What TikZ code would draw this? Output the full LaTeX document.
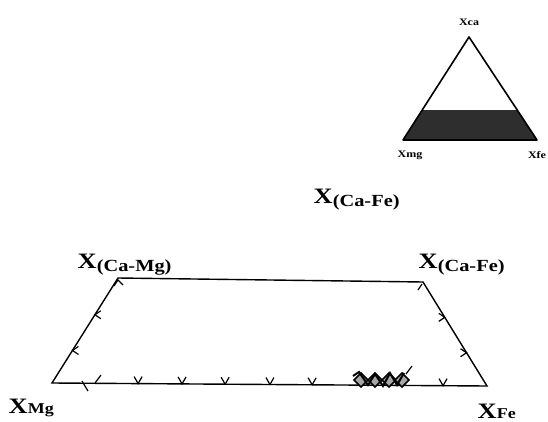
\documentclass[tikz,border=0pt]{standalone}
\usepackage{fontspec}
\setmainfont{Liberation Serif}
\newfontfamily\lblfont[FakeStretch=1.2]{Liberation Serif}
\usetikzlibrary{calc}

\newcommand{\bigX}[1]{{\fontsize{22}{22}\selectfont X}\raisebox{-3pt}{\fontsize{17}{17}\selectfont #1}}
\newcommand{\cornerX}[1]{{\fontsize{22}{22}\selectfont X}{\fontsize{15}{15}\selectfont #1}}

\begin{document}
\begin{tikzpicture}[x=1pt, y=-1pt, line width=1.4pt,
    lbl/.style={font=\lblfont\bfseries, inner sep=0pt, anchor=base west},
    small/.style={font=\lblfont\bfseries\fontsize{10}{10}\selectfont, inner sep=0pt},
    tick/.style={line width=1.2pt}]
  \useasboundingbox (0,0) rectangle (548,422);

  % small triangle
  \coordinate (ca) at (469,37);
  \coordinate (tmg) at (403,140);
  \coordinate (tfe) at (537,140);
  \fill[black!82] ($(tmg)!0.29!(ca)$) -- ($(tfe)!0.29!(ca)$) -- (tfe) -- (tmg) -- cycle;
  \draw[line width=1.6pt, line join=round] (ca) -- (tfe) -- (tmg) -- cycle;
  \node[small] (xca) at (469,22) {Xca};
  \node[small] (xmg) at (410,155) {Xmg};
  \node[small] (xfe) at (537,155) {Xfe};

  \node[lbl] (lone) at (313,203) {\bigX{(Ca-Fe)}};

  % trapezoid
  \coordinate (mg) at (52,383);
  \coordinate (camg) at (118,278);
  \coordinate (cafe) at (423,282);
  \coordinate (fe) at (487,386);
  \draw (mg) -- (camg) -- (cafe) -- (fe) -- cycle;

  \node[lbl] (camglbl) at (77,268) {\bigX{(Ca-Mg)}};
  \node[lbl] (cafelbl) at (418,268) {\bigX{(Ca-Fe)}};
  \node[lbl] (mglbl) at (8,413) {\cornerX{Mg}};
  \node[lbl] (felbl) at (477,418) {\cornerX{Fe}};

  % ticks
  \foreach \t in {.198,.299,.398,.501,.598,.899}
    \draw[tick] ($(mg)!\t!(fe)$) ++(-4,-7) -- ++(4,7) -- ++(4,-7);
  \foreach \t in {.31,.65}
    \draw[tick] ($(mg)!\t!(camg)$) ++(6,-4) -- ++(-6,4) -- ++(6,4);
  \foreach \t in {.32,.66}
    \draw[tick] ($(fe)!\t!(cafe)$) ++(-6,-4) -- ++(6,4) -- ++(-6,4);
  \draw[tick] ($(camg)+(-4,8)$) -- ($(camg)+(0,2)$) -- ($(camg)+(5,7)$);
  \draw[tick] ($(cafe)+(-5,8)$) -- ($(cafe)+(-1,2)$);
  \draw[tick] (82,381) -- (88,391);
  \draw[tick] (95,383) -- (101,375);

  % cluster
  \foreach \c in {361,375,389,402}
    \filldraw[fill=black!35, line width=1.6pt] (\c-7,380) -- (\c,373) -- (\c+7,380) -- (\c,387) -- cycle;
  \draw[line width=2pt] (353,376) -- (359,372) -- (368,385) -- (375,374) -- (383,386) -- (390,373) -- (397,385) -- (404,373);
  \draw[tick] (406,374) -- (412,366);
\end{tikzpicture}
\end{document}
